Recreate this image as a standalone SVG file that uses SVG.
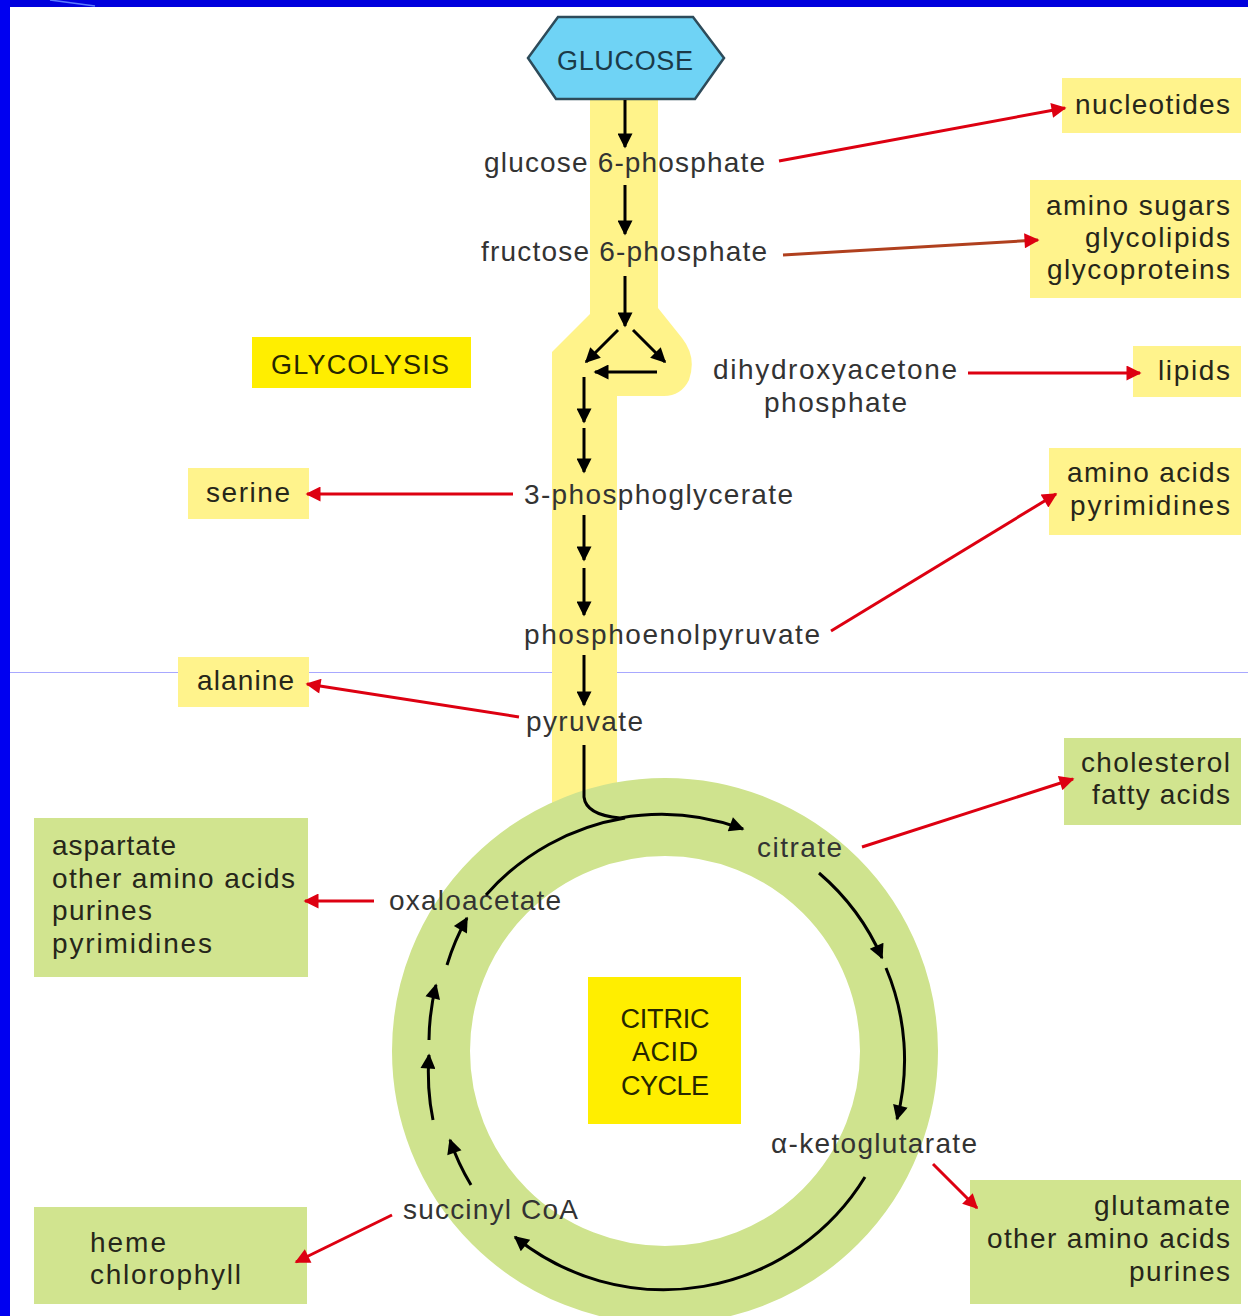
<svg xmlns="http://www.w3.org/2000/svg" width="1248" height="1316" viewBox="0 0 1248 1316">
  <defs>
    <marker id="blackHead" viewBox="0 0 10 10" refX="9" refY="5" markerWidth="18" markerHeight="15" markerUnits="userSpaceOnUse" orient="auto">
      <path d="M0,0 L10,5 L0,10 Z" fill="#000"/>
    </marker>
    <marker id="redHead" viewBox="0 0 10 10" refX="9" refY="5" markerWidth="17" markerHeight="15" markerUnits="userSpaceOnUse" orient="auto">
      <path d="M0,0 L10,5 L0,10 Z" fill="#dd0011"/>
    </marker>
  </defs>
  <style>
    .lbl { font-family: "Liberation Sans", Arial, sans-serif; font-size: 28px; fill: #333333; }
    .box-txt { font-family: "Liberation Sans", Arial, sans-serif; font-size: 28px; fill: #26261a; }
    .caps { font-family: "Liberation Sans", Arial, sans-serif; font-size: 27px; fill: #262600; }
    .ybox { fill: #fff38c; }
    .gbox { fill: #d1e48f; }
    .hbox { fill: #ffee00; }
    .flow { stroke: #000; stroke-width: 3; fill: none; marker-end: url(#blackHead); }
    .out { stroke: #dd0011; stroke-width: 3; fill: none; marker-end: url(#redHead); }
  </style>

  <!-- page -->
  <rect x="0" y="0" width="1248" height="1316" fill="#ffffff"/>
  <rect x="0" y="0" width="1248" height="7" fill="#0000dd"/>
  <rect x="0" y="0" width="10" height="1316" fill="#0000f0"/>
  <line x1="50" y1="0" x2="95" y2="6" stroke="#5a7aff" stroke-width="1.5"/>
  <line x1="10" y1="672.5" x2="1248" y2="672.5" stroke="#a8a8ff" stroke-width="1"/>

  <!-- glycolysis band and citric acid ring -->
  <path id="glycolysis-band" d="M590,100 L658,100 L658,308 L682,338 Q697,357 689,380 Q681,396 664,396 L617,396 L617,805 L552,805 L552,352 L590,314 Z" fill="#fff38a"/>
  <circle id="citric-ring" cx="665" cy="1051" r="234" fill="none" stroke="#cfe38e" stroke-width="78"/>

  <!-- nodes -->
  <g id="glucose">
    <polygon points="558,17 693,17 724,58 695,99 556,99 528,58" fill="#6fd3f5" stroke="#2d4b5a" stroke-width="2.5"/>
    <text x="625" y="70" text-anchor="middle" class="caps" style="fill:#1b3a48" textLength="136">GLUCOSE</text>
  </g>
  <g id="glucose-6-phosphate"><text class="lbl" x="484" y="172" textLength="281">glucose 6-phosphate</text></g>
  <g id="fructose-6-phosphate"><text class="lbl" x="481" y="261" textLength="286">fructose 6-phosphate</text></g>
  <g id="dihydroxyacetone-phosphate">
    <text class="lbl" x="713" y="379" textLength="244">dihydroxyacetone</text>
    <text class="lbl" x="764" y="412" textLength="143">phosphate</text>
  </g>
  <g id="phosphoglycerate"><text class="lbl" x="524" y="504" textLength="269">3-phosphoglycerate</text></g>
  <g id="phosphoenolpyruvate"><text class="lbl" x="524" y="644" textLength="296">phosphoenolpyruvate</text></g>
  <g id="pyruvate"><text class="lbl" x="526" y="731" textLength="117">pyruvate</text></g>
  <g id="citrate"><text class="lbl" x="757" y="857" textLength="85">citrate</text></g>
  <g id="oxaloacetate"><text class="lbl" x="389" y="910" textLength="172">oxaloacetate</text></g>
  <g id="ketoglutarate"><text class="lbl" x="771" y="1153" textLength="206">α-ketoglutarate</text></g>
  <g id="succinyl-coa"><text class="lbl" x="403" y="1219" textLength="175">succinyl CoA</text></g>

  <g id="glycolysis-title">
    <rect class="hbox" x="252" y="337" width="219" height="51"/>
    <text class="caps" x="271" y="374" textLength="178">GLYCOLYSIS</text>
  </g>
  <g id="citric-acid-cycle-title">
    <rect class="hbox" x="588" y="977" width="153" height="147"/>
    <text class="caps" x="665" y="1028" text-anchor="middle" textLength="89">CITRIC</text>
    <text class="caps" x="665" y="1061" text-anchor="middle" textLength="66">ACID</text>
    <text class="caps" x="665" y="1095" text-anchor="middle" textLength="88">CYCLE</text>
  </g>

  <g id="nucleotides">
    <rect class="ybox" x="1062" y="78" width="179" height="55"/>
    <text class="box-txt" x="1075" y="114" textLength="155">nucleotides</text>
  </g>
  <g id="amino-sugars">
    <rect class="ybox" x="1030" y="180" width="211" height="118"/>
    <text class="box-txt" x="1230" y="215" text-anchor="end" textLength="184">amino sugars</text>
    <text class="box-txt" x="1230" y="247" text-anchor="end" textLength="145">glycolipids</text>
    <text class="box-txt" x="1230" y="279" text-anchor="end" textLength="183">glycoproteins</text>
  </g>
  <g id="lipids">
    <rect class="ybox" x="1133" y="346" width="108" height="51"/>
    <text class="box-txt" x="1158" y="380" textLength="72">lipids</text>
  </g>
  <g id="amino-acids-pyrimidines">
    <rect class="ybox" x="1049" y="448" width="192" height="87"/>
    <text class="box-txt" x="1230" y="482" text-anchor="end" textLength="163">amino acids</text>
    <text class="box-txt" x="1230" y="515" text-anchor="end" textLength="160">pyrimidines</text>
  </g>
  <g id="serine">
    <rect class="ybox" x="188" y="468" width="121" height="51"/>
    <text class="box-txt" x="206" y="502" textLength="84">serine</text>
  </g>
  <g id="alanine">
    <rect class="ybox" x="178" y="657" width="131" height="50"/>
    <text class="box-txt" x="197" y="690" textLength="97">alanine</text>
  </g>
  <g id="cholesterol-fatty-acids">
    <rect class="gbox" x="1064" y="738" width="177" height="87"/>
    <text class="box-txt" x="1230" y="772" text-anchor="end" textLength="149">cholesterol</text>
    <text class="box-txt" x="1230" y="804" text-anchor="end" textLength="138">fatty acids</text>
  </g>
  <g id="aspartate-group">
    <rect class="gbox" x="34" y="818" width="274" height="159"/>
    <text class="box-txt" x="52" y="855" textLength="124">aspartate</text>
    <text class="box-txt" x="52" y="888" textLength="243">other amino acids</text>
    <text class="box-txt" x="52" y="920" textLength="100">purines</text>
    <text class="box-txt" x="52" y="953" textLength="160">pyrimidines</text>
  </g>
  <g id="glutamate-group">
    <rect class="gbox" x="970" y="1180" width="271" height="124"/>
    <text class="box-txt" x="1230" y="1215" text-anchor="end" textLength="136">glutamate</text>
    <text class="box-txt" x="1230" y="1248" text-anchor="end" textLength="243">other amino acids</text>
    <text class="box-txt" x="1230" y="1281" text-anchor="end" textLength="101">purines</text>
  </g>
  <g id="heme-chlorophyll">
    <rect class="gbox" x="34" y="1207" width="273" height="97"/>
    <text class="box-txt" x="90" y="1252" textLength="76">heme</text>
    <text class="box-txt" x="90" y="1284" textLength="151">chlorophyll</text>
  </g>

  <!-- connectors -->
  <g id="connectors">
    <!-- glycolysis steps -->
    <path class="flow" d="M625,100 L625,147"/>
    <path class="flow" d="M625,185 L625,234"/>
    <path class="flow" d="M625,276 L625,326"/>
    <path class="flow" d="M618,330 L586,362"/>
    <path class="flow" d="M633,330 L665,362"/>
    <path class="flow" d="M657,372 L595,372"/>
    <path class="flow" d="M584,377 L584,422"/>
    <path class="flow" d="M584,428 L584,472"/>
    <path class="flow" d="M584,515 L584,560"/>
    <path class="flow" d="M584,568 L584,615"/>
    <path class="flow" d="M584,655 L584,705"/>
    <!-- pyruvate into the cycle -->
    <path class="flow" d="M584,745 L584,797 Q586,815 620,818 A236,236 0 0 1 743,829"/>
    <!-- oxaloacetate joins toward citrate -->
    <path d="M486,895 A236,236 0 0 1 625,818" fill="none" stroke="#000" stroke-width="3"/>
    <!-- citrate to alpha-ketoglutarate -->
    <path class="flow" d="M819,873 A236,236 0 0 1 882,958"/>
    <path class="flow" d="M886,968 A236,236 0 0 1 897,1119"/>
    <!-- alpha-ketoglutarate to succinyl CoA -->
    <path class="flow" d="M865,1177 A236,236 0 0 1 515,1237"/>
    <!-- succinyl CoA back up to oxaloacetate -->
    <path class="flow" d="M471,1185 A236,236 0 0 1 450,1140"/>
    <path class="flow" d="M433,1120 A236,236 0 0 1 429,1055"/>
    <path class="flow" d="M429,1040 A236,236 0 0 1 436,985"/>
    <path class="flow" d="M447,965 A236,236 0 0 1 467,918"/>

    <!-- biosynthetic branches -->
    <path class="out" d="M779,161 L1065,108"/>
    <path class="out" d="M783,255 L1038,240" style="stroke:#b0401e"/>
    <path class="out" d="M968,373 L1140,373"/>
    <path class="out" d="M513,494 L307,494"/>
    <path class="out" d="M831,631 L1056,494"/>
    <path class="out" d="M519,717 L307,684"/>
    <path class="out" d="M862,847 L1073,779"/>
    <path class="out" d="M374,901 L305,901"/>
    <path class="out" d="M933,1164 L977,1208"/>
    <path class="out" d="M392,1215 L296,1262"/>
  </g>
</svg>
